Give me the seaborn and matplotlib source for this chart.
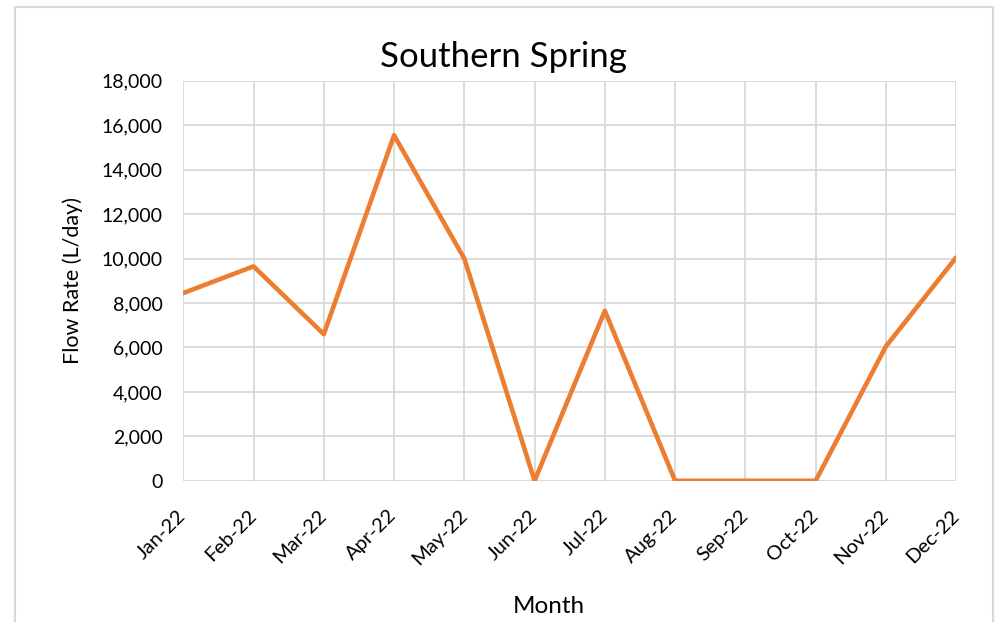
import numpy as np
import pandas as pd
import matplotlib
matplotlib.use("Agg")
import matplotlib.pyplot as plt
import matplotlib.ticker as mticker
from matplotlib.patches import Rectangle
import seaborn as sns

# datos
meses = ["Jan-22", "Feb-22", "Mar-22", "Apr-22", "May-22", "Jun-22",
         "Jul-22", "Aug-22", "Sep-22", "Oct-22", "Nov-22", "Dec-22"]
caudal = [8450, 9650, 6600, 15550, 10000, 0, 7650, 0, 0, 0, 6050, 10050]
y_ticks = [0, 2000, 4000, 6000, 8000, 10000, 12000, 14000, 16000, 18000]

df = pd.DataFrame({"Month": meses, "Flow": caudal})

sns.set_style("white")
plt.rcParams['font.family'] = ['Lato', 'DejaVu Sans']
plt.rcParams['text.color'] = 'black'
plt.rcParams['axes.labelcolor'] = 'black'

fig = plt.figure(figsize=(9.96, 6.22), dpi=100)
ax = fig.add_axes([0.184, 0.227, 0.776, 0.643])

sns.lineplot(data=df, x="Month", y="Flow", sort=False, color="#ED7D31",
             linewidth=3.3, ax=ax)

ax.set_xlim(0, len(meses) - 1)
ax.set_ylim(0, 18000)
ax.set_yticks(y_ticks)
ax.yaxis.set_major_formatter(mticker.FuncFormatter(lambda v, p: f"{v:,.0f}"))
ax.grid(True, color="#d9d9d9", linewidth=1.3)
ax.set_axisbelow(True)
for s in ax.spines.values():
    s.set_visible(False)
ax.tick_params(length=0, colors="black")
ax.tick_params(axis="y", labelsize=14, pad=15)
ax.tick_params(axis="x", labelsize=14.5, pad=23)
plt.setp(ax.get_xticklabels(), rotation=45, ha="right", va="center",
         rotation_mode="anchor")

# titulo centrado en la figura
fig.text(503 / 996, 1 - 67 / 622, "Southern Spring", fontsize=25,
         ha="center", va="baseline", color="black")
ax.set_xlabel("Month", fontsize=17.5)
ax.xaxis.set_label_coords((550 - 184) / 773, (481 - 613) / 400)
ax.xaxis.label.set_va("baseline")
ax.set_ylabel("Flow Rate (L/day)", fontsize=15.5)
ax.yaxis.set_label_coords((73 - 184) / 773, 0.5)
ax.yaxis.label.set_va("center")

# marco del area del grafico
fig.patches.append(Rectangle((15 / 996, -0.1), 978 / 996, 1.1 - 7 / 622,
                             transform=fig.transFigure, fill=False,
                             edgecolor="#d9d9d9", linewidth=1.5))

fig.savefig("out.png", dpi=100)
